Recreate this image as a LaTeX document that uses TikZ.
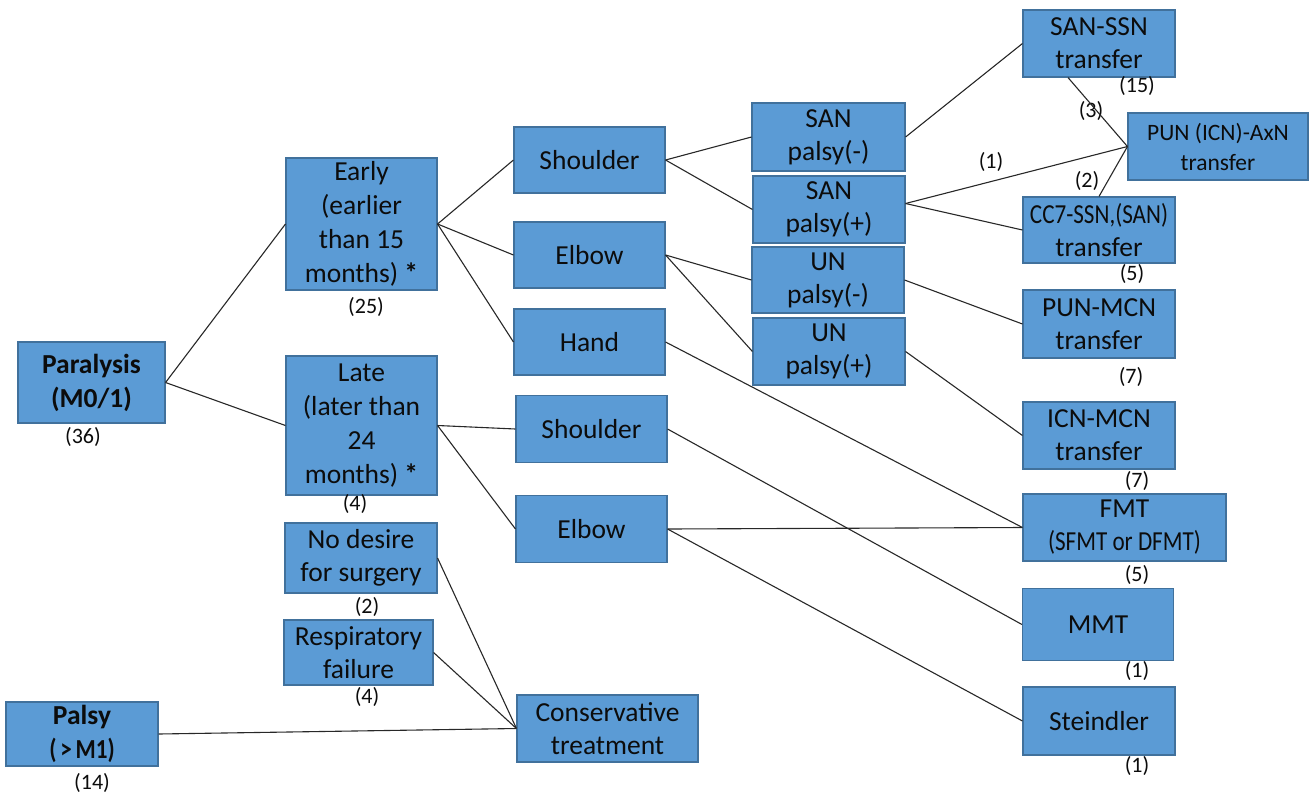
\documentclass[tikz,border=0pt]{standalone}
\usepackage{fontspec}
\setmainfont{Carlito}
\usepackage{graphicx}
\usetikzlibrary{calc}
\definecolor{boxfill}{RGB}{91,155,213}
\definecolor{boxline}{RGB}{65,113,156}
\definecolor{txt}{RGB}{12,12,12}
\definecolor{wire}{RGB}{40,40,40}
\newcommand{\cnd}[1]{\scalebox{0.84}[1]{#1}}
\begin{document}
\begin{tikzpicture}[x=1pt,y=-1pt,
  box/.style={draw=boxline, fill=boxfill, line width=1.1pt, inner sep=0pt, align=center,
    text=txt, font=\fontsize{27.5}{33}\selectfont},
  boldbox/.style={box, font=\fontsize{27.5}{34}\selectfont\bfseries},
  lab/.style={inner sep=0pt, text=txt, font=\fontsize{22}{26}\selectfont},
  conn/.style={draw=wire, line width=1.1pt}]
\useasboundingbox (0,0) rectangle (1309,796);
\fill[white] (0,0) rectangle (1309,796);

% column 1
\node[boldbox, minimum width=147pt, minimum height=81pt] (par) at (91.5,382.5) {Paralysis\\(M0/1)};
\node[boldbox, minimum width=152pt, minimum height=64pt] (palsy) at (82,734) {Palsy\\\cnd{(\,>\,M1)}};

% column 2
\node[box, minimum width=151pt, minimum height=132pt, font=\fontsize{27.5}{34}\selectfont] (early) at (361.5,224) {Early\\(earlier\\than 15\\months) \textbf{*}};
\node[box, minimum width=151pt, minimum height=139pt, font=\fontsize{27.5}{34}\selectfont] (late) at (361.5,425.5) {Late\\(later than\\24\\months) \textbf{*}};
\node[box, minimum width=152pt, minimum height=70pt] (nodes) at (361,558) {No desire\\for surgery};
\node[box, minimum width=149pt, minimum height=65pt] (resp) at (358.5,652.5) {Respiratory\\failure};

% column 3
\node[box, minimum width=151pt, minimum height=66pt] (sh1) at (589.5,160) {Shoulder};
\node[box, minimum width=151pt, minimum height=66pt] (el1) at (589.5,255) {Elbow};
\node[box, minimum width=151pt, minimum height=66pt] (hand) at (589.5,342) {Hand};
\node[box, minimum width=151pt, minimum height=67pt] (sh2) at (591.5,429) {Shoulder};
\node[box, minimum width=151pt, minimum height=67pt] (el2) at (591.5,529) {Elbow};
\node[box, minimum width=181pt, minimum height=67pt] (cons) at (607.5,728.5) {Conservative\\treatment};

% column 4
\node[box, minimum width=153pt, minimum height=68pt] (sanm) at (828.5,137) {SAN\\palsy(-)};
\node[box, minimum width=152pt, minimum height=67pt] (sanp) at (829,209.5) {SAN\\palsy(+)};
\node[box, minimum width=152pt, minimum height=66pt] (unm) at (828,280) {UN\\palsy(-)};
\node[box, minimum width=152pt, minimum height=67pt] (unp) at (829,351.5) {UN\\palsy(+)};

% column 5
\node[box, minimum width=152pt, minimum height=67pt] (sanssn) at (1099,43.5) {SAN-SSN\\transfer};
\node[box, minimum width=180pt, minimum height=67pt, font=\fontsize{23.5}{30}\selectfont] (pun) at (1218,146.5) {PUN (ICN)-AxN\\transfer};
\node[box, minimum width=152pt, minimum height=66pt] (cc7) at (1099,230) {\cnd{CC7-SSN,(SAN)}\\transfer};
\node[box, minimum width=152pt, minimum height=68pt] (punmcn) at (1099,324) {PUN-MCN\\transfer};
\node[box, minimum width=152pt, minimum height=67pt] (icnmcn) at (1099,435.5) {ICN-MCN\\transfer};
\node[box, minimum width=203pt, minimum height=67pt] (fmt) at (1124.5,527.5) {FMT\\\cnd{(SFMT or DFMT)}};
\node[box, minimum width=151pt, minimum height=72pt] (mmt) at (1098,624.5) {MMT};
\node[box, minimum width=152pt, minimum height=68pt] (stein) at (1099,721) {Steindler};

% count labels
\node[lab] (l36) at (83,437) {(36)};
\node[lab] (l14) at (92,783) {(14)};
\node[lab] (l25) at (366,307) {(25)};
\node[lab] (l4a) at (355,504) {(4)};
\node[lab] (l2a) at (367,607) {(2)};
\node[lab] (l4b) at (367,697) {(4)};
\node[lab] (l15) at (1137,86) {(15)};
\node[lab] (l3) at (1091,111) {(3)};
\node[lab] (l1a) at (991,162) {(1)};
\node[lab] (l2b) at (1087,181) {(2)};
\node[lab] (l5a) at (1132,274) {(5)};
\node[lab] (l7a) at (1131,377) {(7)};
\node[lab] (l7b) at (1137,481) {(7)};
\node[lab] (l5b) at (1137,575) {(5)};
\node[lab] (l1b) at (1137,671) {(1)};
\node[lab] (l1c) at (1137,766) {(1)};

% connectors
\draw[conn] (par.east) -- (early.west);
\draw[conn] (par.east) -- (late.west);
\draw[conn] (early.east) -- (sh1.west);
\draw[conn] (early.east) -- (el1.west);
\draw[conn] (early.east) -- (hand.west);
\draw[conn] (late.east) -- (sh2.west);
\draw[conn] (late.east) -- (el2.west);
\draw[conn] (sh1.east) -- (sanm.west);
\draw[conn] (sh1.east) -- (sanp.west);
\draw[conn] (el1.east) -- (unm.west);
\draw[conn] (el1.east) -- (unp.west);
\draw[conn] (hand.east) -- (fmt.west);
\draw[conn] (sh2.east) -- (mmt.west);
\draw[conn] (el2.east) -- (fmt.west);
\draw[conn] (el2.east) -- (stein.west);
\draw[conn] (sanm.east) -- (sanssn.west);
\draw[conn] ($(sanp.east)+(0,-6)$) -- (pun.west);
\draw[conn] ($(sanp.east)+(0,-6)$) -- (cc7.west);
\draw[conn] ($(sanssn.south)+(-31,0)$) -- (pun.west);
\draw[conn] (cc7.north) -- (pun.west);
\draw[conn] (unm.east) -- (punmcn.west);
\draw[conn] (unp.east) -- (icnmcn.west);
\draw[conn] (nodes.east) -- (cons.west);
\draw[conn] (resp.east) -- (cons.west);
\draw[conn] (palsy.east) -- (cons.west);
\end{tikzpicture}
\end{document}
